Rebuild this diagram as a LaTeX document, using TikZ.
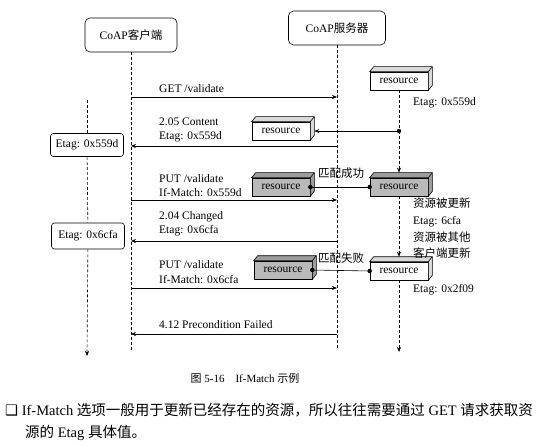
\documentclass[tikz,border=0pt]{standalone}
\usepackage{fontspec}
\setmainfont{Liberation Serif}
\newfontfamily\cjk{Noto Sans CJK SC}
\newfontfamily\sym{DejaVu Sans}
\usepackage{xcolor}
\usetikzlibrary{arrows.meta, positioning, calc}
\colorlet{resgray}{gray!55}
\tikzset{
  lifebox/.style={draw, rounded corners=5pt, minimum width=92pt, minimum height=34pt, line width=0.6pt},
  etagbox/.style={draw, rounded corners=3pt, minimum width=73pt, minimum height=23pt, inner sep=2pt, fill=white, line width=0.6pt},
  resbox/.style={draw, minimum width=58pt, minimum height=18pt, inner sep=1pt, line width=0.6pt},
  life/.style={line width=0.6pt, dash pattern=on 3pt off 2pt},
  tip/.style={-{Stealth[length=5pt,width=4pt]}},
  msg/.style={-{Stealth[length=5pt,width=4pt]}, line width=0.6pt},
  lbl/.style={anchor=west, align=left, inner sep=0pt},
}

\begin{document}
\begin{tikzpicture}[x=1pt, y=-1pt, font=\fontsize{11.5}{14.5}\selectfont]
    \useasboundingbox[fill=white] (0,0) rectangle (559,446);
    % 客户端与服务器
    \node[lifebox] (client) at (131,35) {CoAP{\cjk 客户端}};
    \node[lifebox, minimum width=97pt] (server) at (337,28) {CoAP{\cjk 服务器}};
    \coordinate (clientEnd) at (client.south |- 0,350);
    \coordinate (serverEnd) at (server.south |- 0,348);
    \draw[life] (client) -- (clientEnd);
    \draw[life] (server) -- (serverEnd);

    % 客户端保存的 Etag
    \node[etagbox] (e1) at (87,145) {Etag: 0x559d};
    \node[etagbox, minimum height=26pt] (e2) at (88,236) {Etag: 0x6cfa};
    \coordinate (etagTop) at (e1.north |- 0,100);
    \coordinate (etagEnd) at (e1.south |- 0,356);
    \draw[life] (etagTop) -- (e1);
    \draw[life] (e1) -- (e2);
    \draw[life, tip] (e2) -- (etagEnd);

    % 请求与响应
    \foreach \i/\y in {1/97, 3/200, 5/288} {
        \coordinate (c\i) at (client.south |- 0,\y);
        \coordinate (s\i) at (server.south |- 0,\y);
        \draw[msg] (c\i) -- (s\i);
    }
    \foreach \i/\y in {2/146, 4/241, 6/334} {
        \coordinate (c\i) at (client.south |- 0,\y);
        \coordinate (s\i) at (server.south |- 0,\y);
        \draw[msg] (s\i) -- (c\i);
    }
    \node[lbl] (m1) at (159,89) {GET /validate};
    \node[lbl] (m2) at (159,130) {2.05 Content\\Etag: 0x559d};
    \node[lbl] (m3) at (159,185.5) {PUT /validate\\If-Match: 0x559d};
    \node[lbl] (m4) at (159,224) {2.04 Changed\\Etag: 0x6cfa};
    \node[lbl] (m5) at (159,272) {PUT /validate\\If-Match: 0x6cfa};
    \node[lbl] (m6) at (159,325) {4.12 Precondition Failed};

    % 资源
    \node[resbox] (r1) at (399,81) {resource};
    \node[resbox] (r2) at (281,131) {resource};
    \node[resbox, fill=resgray] (r3) at (399,187) {resource};
    \node[resbox, fill=resgray] (r4) at (281,187) {resource};
    \node[resbox] (r5) at (399,271) {resource};
    \node[resbox, fill=resgray] (r6) at (283,270) {resource};
    \foreach \r/\c in {r1/white, r2/white, r3/resgray, r4/resgray, r5/white, r6/resgray} {
        \filldraw[fill=\c!85!black, line width=0.6pt] (\r.north west) -- ++(4,-5) -- ($(\r.north east)+(4,-5)$)
            -- ($(\r.south east)+(4,-5)$) -- (\r.south east) -- (\r.north east) -- cycle;
        \draw[line width=0.6pt] (\r.north east) -- ++(4,-5);
    }

    % 服务器端资源的变化
    \coordinate (d1) at (r1.south |- r2.east);
    \coordinate (resEnd) at (r5.south |- 0,352);
    \draw[life] (r1) -- (d1);
    \draw[life, tip] (d1) -- ([yshift=5pt]r3.north);
    \draw[life, tip] (r3) -- ([yshift=5pt]r5.north);
    \draw[life, tip] (r5) -- (resEnd);
    \draw[msg] (d1) -- ([xshift=4pt]r2.east);
    \fill (d1) circle (2.2pt);

    \draw[line width=0.6pt] (r4.east) -- (r3.west);
    \draw[line width=0.6pt] (r6.east) -- (r5.west);
    \foreach \p in {r4.east, r3.west, r6.east, r5.west} {
        \fill (\p) circle (2.2pt);
    }
    \node (ok) at (341,173) {\cjk 匹配成功};
    \node (fail) at (341,258) {\cjk 匹配失败};

    \node[lbl] (t1) at (413,103) {Etag: 0x559d};
    \node[lbl, font=\fontsize{11.5}{16.7}\selectfont] (t2) at (413,228.5)
        {{\cjk 资源被更新}\\Etag: 6cfa\\{\cjk 资源被其他}\\{\cjk 客户端更新}};
    \node[lbl] (t3) at (413,290) {Etag: 0x2f09};

    % 图题与正文
    \node[font=\fontsize{11}{13}\selectfont] (cap) at (245,378) {{\cjk 图} 5-16\quad If-Match {\cjk 示例}};
    \node[lbl, font=\fontsize{14.5}{17}\selectfont] (p1) at (5,410)
        {{\sym ❑} If-Match {\cjk 选项一般用于更新已经存在的资源，所以往往需要通过} GET {\cjk 请求获取资}};
    \node[lbl, font=\fontsize{14.5}{17}\selectfont] (p2) at (25,433) {{\cjk 源的} Etag {\cjk 具体值。}};
\end{tikzpicture}
\end{document}
